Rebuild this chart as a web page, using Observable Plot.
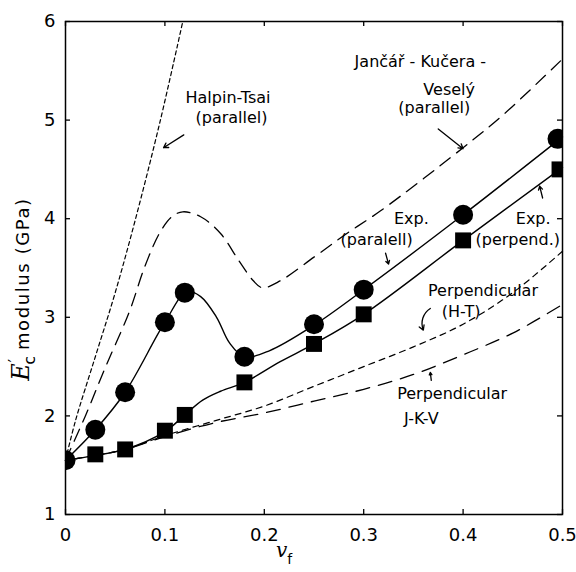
<!DOCTYPE html>
<html>
<head>
<meta charset="utf-8">
<script src="https://cdn.jsdelivr.net/npm/d3@7"></script>
<script src="https://cdn.jsdelivr.net/npm/@observablehq/plot@0.6"></script>
<style>
  html, body { margin: 0; padding: 0; background: #fff; }
  #chart { width: 576px; height: 572px; }
  svg text { font-family: "DejaVu Sans", sans-serif; }
</style>
</head>
<body>
<div id="chart"></div>
<script>
// ---- experimental points ----
const vfPar   = [0, 0.03, 0.06, 0.10, 0.12, 0.18, 0.25, 0.30, 0.40, 0.495];
const expPar  = [1.55, 1.86, 2.24, 2.95, 3.25, 2.60, 2.93, 3.28, 4.04, 4.81];
const vfPerp  = [0.03, 0.06, 0.10, 0.12, 0.18, 0.25, 0.30, 0.40, 0.497];
const expPerp = [1.61, 1.66, 1.85, 2.01, 2.34, 2.73, 3.03, 3.78, 4.50];

// ---- smooth curves drawn through experiments ----
const fitParX  = [0, 0.03, 0.06, 0.10, 0.122, 0.136, 0.152, 0.165, 0.18, 0.205, 0.25, 0.30, 0.40, 0.50];
const fitParY  = [1.55, 1.86, 2.24, 2.95, 3.26, 3.21, 3.00, 2.74, 2.60, 2.66, 2.92, 3.28, 4.04, 4.83];
const fitPerpX = [0, 0.03, 0.06, 0.10, 0.12, 0.138, 0.156, 0.18, 0.216, 0.25, 0.30, 0.40, 0.50];
const fitPerpY = [1.55, 1.60, 1.66, 1.84, 2.01, 2.16, 2.25, 2.34, 2.55, 2.73, 3.03, 3.78, 4.52];

// ---- theoretical curves ----
const htParX  = [0, 0.01, 0.03, 0.05, 0.07, 0.095, 0.118];
const htParY  = [1.55, 1.95, 2.60, 3.25, 3.98, 4.98, 6.0];
const jkvParX = [0, 0.02, 0.04, 0.064, 0.08, 0.095, 0.107, 0.118, 0.136, 0.156, 0.174, 0.189, 0.198, 0.216, 0.25, 0.283, 0.317, 0.40, 0.441, 0.50];
const jkvParY = [1.55, 2.00, 2.49, 3.05, 3.52, 3.86, 4.02, 4.07, 4.02, 3.85, 3.58, 3.37, 3.30, 3.37, 3.61, 3.85, 4.08, 4.72, 5.06, 5.62];
const htPerpX  = [0, 0.03, 0.06, 0.10, 0.15, 0.20, 0.25, 0.30, 0.35, 0.40, 0.45, 0.50];
const htPerpY  = [1.55, 1.60, 1.66, 1.80, 1.95, 2.10, 2.30, 2.50, 2.70, 2.93, 3.25, 3.67];
const jkvPerpX = [0, 0.03, 0.06, 0.10, 0.15, 0.20, 0.25, 0.30, 0.35, 0.40, 0.45, 0.50];
const jkvPerpY = [1.55, 1.60, 1.66, 1.79, 1.93, 2.03, 2.15, 2.27, 2.42, 2.62, 2.84, 3.13];

// ---- ticks ----
const xTicks = [0, 0.1, 0.2, 0.3, 0.4, 0.5];
const xTickLabels = ["0", "0.1", "0.2", "0.3", "0.4", "0.5"];
const yTicks = [1, 2, 3, 4, 5, 6];
const yTickLabels = ["1", "2", "3", "4", "5", "6"];

// ---- annotations ----
const noteText = ["Halpin-Tsai", "(parallel)", "Jančář - Kučera -", "Veselý", "(parallel)",
                  "Exp.", "(paralell)", "Exp.", "(perpend.)", "Perpendicular", "(H-T)",
                  "Perpendicular", "J-K-V"];
const noteX = [0.1635, 0.167, 0.357, 0.386, 0.371, 0.348, 0.313, 0.4705, 0.455, 0.42, 0.398, 0.389, 0.358];
const noteY = [5.23, 5.02, 5.59, 5.31, 5.12, 4.00, 3.79, 4.00, 3.79, 3.27, 3.06, 2.22, 1.97];
const arrX1 = [0.119, 0.375, 0.322, 0.480, 0.368];
const arrY1 = [4.85, 4.91, 3.65, 4.21, 2.36];
const arrX2 = [0.0986, 0.400, 0.325, 0.477, 0.367];
const arrY2 = [4.72, 4.71, 3.54, 4.33, 2.44];
const curvedX1 = [0.367], curvedY1 = [3.09], curvedX2 = [0.360], curvedY2 = [2.87];

const zip = (xs, ys) => xs.map((x, i) => ({x, y: ys[i]}));
const notes = noteText.map((t, i) => ({t, x: noteX[i], y: noteY[i]}));
const arrows = arrX1.map((x1, i) => ({x1, y1: arrY1[i], x2: arrX2[i], y2: arrY2[i]}));
const curved = curvedX1.map((x1, i) => ({x1, y1: curvedY1[i], x2: curvedX2[i], y2: curvedY2[i]}));

const W = 576, H = 572, ML = 65, MR = 14, MT = 21, MB = 58;
const PW = W - ML - MR, PH = H - MT - MB;
const tl = 5;

const chart = Plot.plot({
  width: W, height: H,
  marginLeft: ML, marginRight: MR, marginTop: MT, marginBottom: MB,
  x: {domain: [0, 0.5]},
  y: {domain: [1, 6]},
  style: {fontFamily: "DejaVu Sans, sans-serif", background: "white", color: "black"},
  marks: [
    Plot.axisX(xTicks, {tickSize: 0, tickPadding: 14, fontSize: 18, tickFormat: (d, i) => xTickLabels[i], label: null}),
    Plot.axisY(yTicks, {tickSize: 0, tickPadding: 10, fontSize: 18, tickFormat: (d, i) => yTickLabels[i], label: null}),
    // inward ticks on all four sides
    Plot.tickX(xTicks, {x: d => d, insetTop: PH - tl, strokeWidth: 1.3}),
    Plot.tickX(xTicks, {x: d => d, insetBottom: PH - tl, strokeWidth: 1.3}),
    Plot.tickY(yTicks, {y: d => d, insetRight: PW - tl, strokeWidth: 1.3}),
    Plot.tickY(yTicks, {y: d => d, insetLeft: PW - tl, strokeWidth: 1.3}),
    // theory
    Plot.line(zip(htParX, htParY), {x: "x", y: "y", curve: "catmull-rom", stroke: "black", strokeWidth: 1.2, strokeDasharray: "4,3", clip: true}),
    Plot.line(zip(jkvParX, jkvParY), {x: "x", y: "y", curve: "catmull-rom", stroke: "black", strokeWidth: 1.3, strokeDasharray: "13,8"}),
    Plot.line(zip(htPerpX, htPerpY), {x: "x", y: "y", curve: "catmull-rom", stroke: "black", strokeWidth: 1.2, strokeDasharray: "6,5"}),
    Plot.line(zip(jkvPerpX, jkvPerpY), {x: "x", y: "y", curve: "catmull-rom", stroke: "black", strokeWidth: 1.3, strokeDasharray: "14,9"}),
    // experiments
    Plot.line(zip(fitParX, fitParY), {x: "x", y: "y", curve: "catmull-rom", stroke: "black", strokeWidth: 1.4}),
    Plot.line(zip(fitPerpX, fitPerpY), {x: "x", y: "y", curve: "catmull-rom", stroke: "black", strokeWidth: 1.4}),
    Plot.dot(zip(vfPerp, expPerp), {x: "x", y: "y", symbol: "square", r: 9, fill: "black", stroke: "none", clip: true}),
    Plot.dot(zip(vfPar, expPar), {x: "x", y: "y", r: 10, fill: "black", stroke: "none", clip: true}),
    // annotations
    Plot.text(notes, {x: "x", y: "y", text: "t", fontSize: 16, fill: "black", letterSpacing: 1.4}),
    Plot.arrow(arrows, {x1: "x1", y1: "y1", x2: "x2", y2: "y2", strokeWidth: 1.3, headLength: 6}),
    Plot.arrow(curved, {x1: "x1", y1: "y1", x2: "x2", y2: "y2", strokeWidth: 1.3, headLength: 6, bend: -40}),
    Plot.frame({stroke: "black", strokeWidth: 1.5})
  ]
});

document.getElementById("chart").appendChild(chart);

const svg = d3.select(chart);
// y-axis title
const yt = svg.append("text")
  .attr("transform", "translate(29,289) rotate(-90)")
  .attr("text-anchor", "middle")
  .attr("font-size", 18)
  .attr("fill", "black");
yt.append("tspan").attr("font-style", "italic").attr("font-size", 24).attr("font-family", "DejaVu Serif, serif").text("E");
yt.append("tspan").attr("font-size", 15).attr("dy", -9).attr("dx", 1).text("′");
yt.append("tspan").attr("font-size", 16).attr("dx", -6).attr("dy", 15).text("c");
yt.append("tspan").attr("dy", -6).attr("dx", 6).attr("letter-spacing", 1.6).text("modulus (GPa)");
// x-axis title
const xt = svg.append("text")
  .attr("x", 284).attr("y", 557)
  .attr("text-anchor", "middle")
  .attr("fill", "black");
xt.append("tspan").attr("font-style", "italic").attr("font-size", 20).attr("font-family", "DejaVu Serif, serif").text("v");
xt.append("tspan").attr("font-size", 14).attr("dy", 7).text("f");
</script>
</body>
</html>
